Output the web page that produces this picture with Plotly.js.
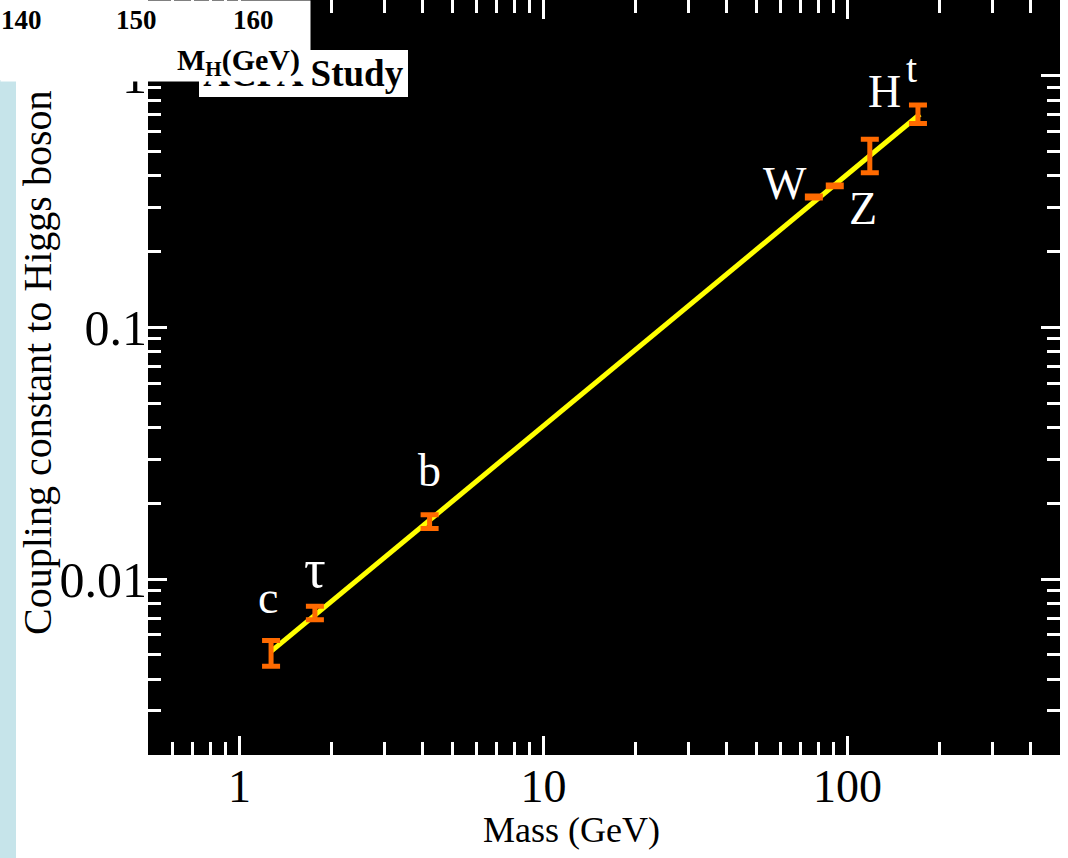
<!DOCTYPE html>
<html>
<head>
<meta charset="utf-8">
<script src="https://cdn.plot.ly/plotly-3.0.1.min.js"></script>
<style>html,body{margin:0;padding:0;background:#fff;}#chart{width:1068px;height:858px;}</style>
</head>
<body>
<div id="chart"></div>
<script>
// ---- data ----
const particles   = ['c', 'τ', 'b', 'W', 'Z', 'H', 't'];
const massGeV     = [1.27, 1.77, 4.22, 77.5, 90.8, 118.4, 170.5];
const coupling    = [0.0051, 0.0073, 0.0170, 0.330, 0.365, 0.481, 0.703];
const errPlus     = [0.0006, 0.0005, 0.0010, 0.003, 0.003, 0.079, 0.062];
const errMinus    = [0.0006, 0.0004, 0.0011, 0.003, 0.003, 0.069, 0.057];

const lineMass    = [1.27, 173];
const lineCoupling= [0.00516, 0.703];

const labelText   = ['c', 'τ', 'b', 'W', 'Z', 'H', 't'];
const labelMass   = [1.238, 1.768, 4.22, 62.2, 112.2, 132.8, 162.9];
const labelCoup   = [0.00846, 0.01093, 0.0270, 0.372, 0.296, 0.864, 1.066];

const xTickVals   = [1, 10, 100];
const xTickText   = ['1', '10', '100'];
const xMinorVals  = [0.6,0.7,0.8,0.9,2,3,4,5,6,7,8,9,20,30,40,50,60,70,80,90,200,300,400];
const yTickVals   = [0.01, 0.1, 1];
const yTickText   = ['0.01', '0.1', '1'];
const yMinorVals  = [0.002,0.003,0.004,0.005,0.006,0.007,0.008,0.009,0.02,0.03,0.04,0.05,0.06,0.07,0.08,0.09,0.2,0.3,0.4,0.5,0.6,0.7,0.8,0.9,2];

const overlayTicks = ['140', '150', '160'];

// ---- layout helpers (pixel -> paper) ----
const W = 1068, H = 858;
const M = {l: 148, r: 8, t: 0, b: 103};
const PW = W - M.l - M.r, PH = H - M.t - M.b;
const px = x => (x - M.l) / PW;
const py = y => (H - M.b - y) / PH;

const serif = 'Liberation Serif, Times New Roman, serif';

const traces = [
  {
    x: lineMass, y: lineCoupling, type: 'scatter', mode: 'lines',
    line: {color: '#ffff00', width: 5}, hoverinfo: 'skip', showlegend: false
  },
  {
    x: massGeV, y: coupling, type: 'scatter', mode: 'markers',
    marker: {size: 1, color: 'rgba(0,0,0,0)'},
    error_y: {type: 'data', symmetric: false, array: errPlus, arrayminus: errMinus,
              color: '#ff6a00', thickness: 5, width: 9},
    text: particles, showlegend: false
  }
];

const annotations = [];
for (let i = 0; i < labelText.length; i++) {
  annotations.push({
    x: Math.log10(labelMass[i]), y: Math.log10(labelCoup[i]), xref: 'x', yref: 'y',
    text: labelText[i], showarrow: false, xanchor: 'center', yanchor: 'middle',
    font: {family: serif, size: labelText[i] === 't' ? 40 : (labelText[i] === 'τ' ? 54 : 46), color: '#ffffff'}
  });
}
// axis titles
annotations.push({
  x: px(571), y: py(830), xref: 'paper', yref: 'paper', text: 'Mass (GeV)', showarrow: false,
  xanchor: 'center', yanchor: 'middle', font: {family: serif, size: 36, color: '#000'}
});
annotations.push({
  x: px(37), y: py(363), xref: 'paper', yref: 'paper', text: 'Coupling constant to Higgs boson',
  showarrow: false, textangle: -90, xanchor: 'center', yanchor: 'middle',
  font: {family: serif, size: 40, color: '#000'}
});
// ACFA box (partly hidden by the white overlay)
annotations.push({
  x: px(197), y: py(48), xref: 'paper', yref: 'paper', text: '<b>ACFA Study</b>', showarrow: false,
  xanchor: 'left', yanchor: 'top', width: 209, height: 47, align: 'center',
  bgcolor: '#ffffff', bordercolor: '#000000', borderwidth: 2, borderpad: 0,
  font: {family: serif, size: 37, color: '#000'}
});
// white overlay from a second figure
annotations.push({
  x: px(0), y: py(0), xref: 'paper', yref: 'paper', text: ' ', showarrow: false,
  xanchor: 'left', yanchor: 'top', width: 309, height: 80, bgcolor: '#ffffff', borderpad: 0,
  font: {size: 10}
});
const overlayX = [22, 136, 253];
for (let i = 0; i < overlayTicks.length; i++) {
  annotations.push({
    x: px(overlayX[i]), y: py(20), xref: 'paper', yref: 'paper', text: '<b>' + overlayTicks[i] + '</b>',
    showarrow: false, xanchor: 'center', yanchor: 'middle',
    font: {family: serif, size: 27, color: '#000'}
  });
}
annotations.push({
  x: px(238), y: py(62), xref: 'paper', yref: 'paper', text: '<b>M<sub>H</sub>(GeV)</b>',
  showarrow: false, xanchor: 'center', yanchor: 'middle',
  font: {family: serif, size: 30, color: '#000'}
});

const layout = {
  width: W, height: H,
  margin: M,
  paper_bgcolor: '#ffffff', plot_bgcolor: '#000000',
  showlegend: false,
  xaxis: {
    type: 'log', range: [Math.log10(0.5), Math.log10(500)],
    tickmode: 'array', tickvals: xTickVals, ticktext: xTickText,
    ticks: 'inside', ticklen: 19, tickwidth: 3, tickcolor: '#ffffff', mirror: 'ticks',
    showline: false, showgrid: false, zeroline: false,
    minor: {tickmode: 'array', tickvals: xMinorVals, ticks: 'inside', ticklen: 13, tickwidth: 3, tickcolor: '#ffffff', showgrid: false},
    tickfont: {family: serif, size: 46, color: '#000'}
  },
  yaxis: {
    type: 'log', range: [Math.log10(0.002), Math.log10(2)],
    tickmode: 'array', tickvals: yTickVals, ticktext: yTickText,
    ticks: 'inside', ticklen: 19, tickwidth: 3, tickcolor: '#ffffff', mirror: 'ticks',
    showline: false, showgrid: false, zeroline: false,
    minor: {tickmode: 'array', tickvals: yMinorVals, ticks: 'inside', ticklen: 13, tickwidth: 3, tickcolor: '#ffffff', showgrid: false},
    tickfont: {family: serif, size: 50, color: '#000'}
  },
  shapes: [
    {type: 'rect', xref: 'paper', yref: 'paper', x0: px(0), x1: px(16), y0: py(858), y1: py(80),
     fillcolor: '#c6e4ea', line: {width: 0}, layer: 'above'}
  ],
  annotations: annotations
};

Plotly.newPlot('chart', traces, layout, {displayModeBar: false, staticPlot: true});
</script>
</body>
</html>
